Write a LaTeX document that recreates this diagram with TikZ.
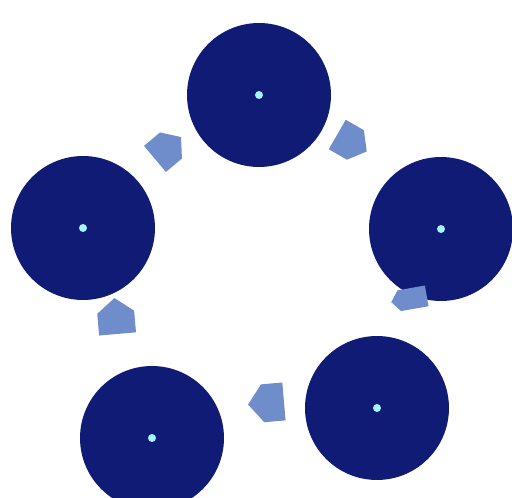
\documentclass[tikz,border=0pt]{standalone}
\definecolor{navy}{HTML}{0F1B74}
\definecolor{dotc}{HTML}{A6F2FF}
\definecolor{arrc}{HTML}{6F8DCB}
\tikzset{
  disc/.style={circle, fill=navy, draw=none, minimum size=2.88cm, inner sep=0pt},
  centerdot/.style={circle, fill=dotc, draw=none, minimum size=0.16cm, inner sep=0pt},
  blockarrow/.style={fill=arrc, draw=none}
}
% #1 = x, #2 = y, #3 = angle, #4 = length, #5 = width
\newcommand{\blockarr}[5]{%
  \begin{scope}[shift={(#1,#2)}, rotate=#3]
    \fill[blockarrow] (-#4/2,-#5/2) -- ({#4/2-#5/2.6},-#5/2) -- (#4/2,0)
      -- ({#4/2-#5/2.6},#5/2) -- (-#4/2,#5/2) -- cycle;
  \end{scope}}
\begin{document}
\begin{tikzpicture}[x=0.02cm, y=0.02cm]
\useasboundingbox (0,0) rectangle (512,498);
\fill[white] (0,0) rectangle (512,498);
% discs
\node[disc] (top) at (259,403) {};
\node[disc] (right) at (441,269) {};
\node[disc] (bright) at (377,90) {};
\node[disc] (bleft) at (152,60) {};
\node[disc] (left) at (83,270) {};
% center dots
\node[centerdot] (dtop) at (top.center) {};
\node[centerdot] (dright) at (right.center) {};
\node[centerdot] (dbright) at (bright.center) {};
\node[centerdot] (dbleft) at (bleft.center) {};
\node[centerdot] (dleft) at (left.center) {};
% block arrows
\blockarr{168}{350}{40}{34}{34}
\blockarr{352}{355}{-30}{34}{34}
\blockarr{409}{199}{190}{36}{21}
\blockarr{266}{95}{185}{36}{38}
\blockarr{116}{182}{95}{36}{37}
\end{tikzpicture}
\end{document}
